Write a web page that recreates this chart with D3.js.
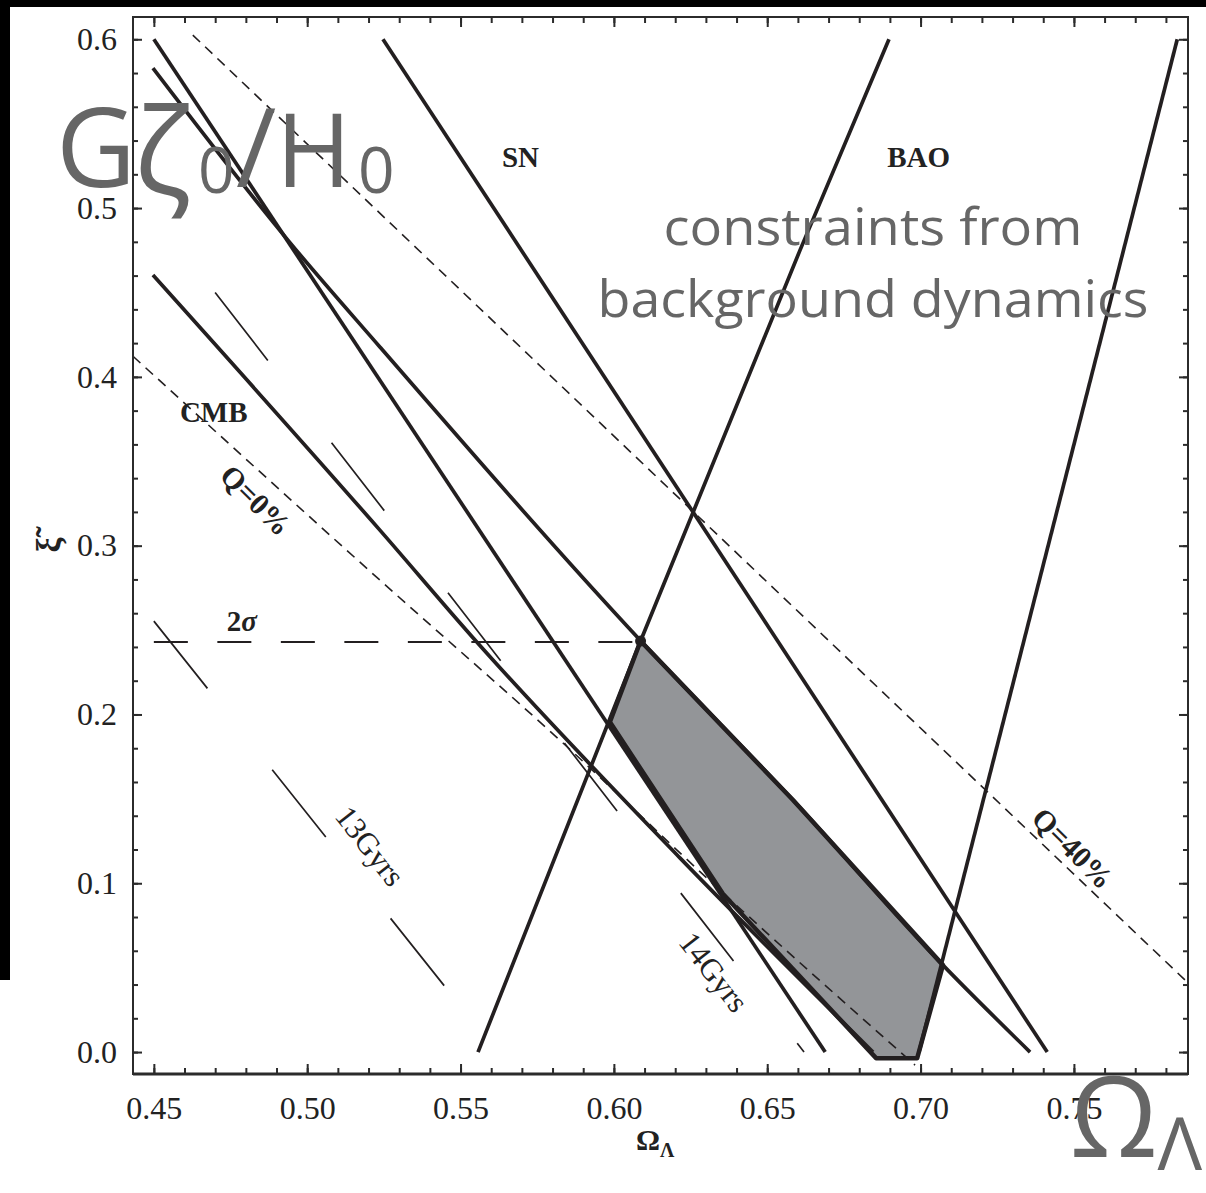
<!DOCTYPE html>
<html>
<head>
<meta charset="utf-8">
<script src="https://cdn.jsdelivr.net/npm/d3@7"></script>
<style>
  body { margin: 0; background: #fff; }
  svg { display: block; }
</style>
</head>
<body>
<div id="chart"></div>
<script>
// tick values and labels
var omegaMajor = [0.45, 0.50, 0.55, 0.60, 0.65, 0.70, 0.75];
var omegaLabels = ["0.45", "0.50", "0.55", "0.60", "0.65", "0.70", "0.75"];
var omegaMinor = [0.45, 0.46, 0.47, 0.48, 0.49, 0.50, 0.51, 0.52, 0.53, 0.54, 0.55, 0.56,
  0.57, 0.58, 0.59, 0.60, 0.61, 0.62, 0.63, 0.64, 0.65, 0.66, 0.67, 0.68, 0.69, 0.70,
  0.71, 0.72, 0.73, 0.74, 0.75, 0.76, 0.77, 0.78];
var xiMajor = [0.0, 0.1, 0.2, 0.3, 0.4, 0.5, 0.6];
var xiLabels = ["0.0", "0.1", "0.2", "0.3", "0.4", "0.5", "0.6"];
var xiMinor = [0.0, 0.02, 0.04, 0.06, 0.08, 0.10, 0.12, 0.14, 0.16, 0.18, 0.20, 0.22,
  0.24, 0.26, 0.28, 0.30, 0.32, 0.34, 0.36, 0.38, 0.40, 0.42, 0.44, 0.46, 0.48, 0.50,
  0.52, 0.54, 0.56, 0.58, 0.60];

// constraint curves, [Omega_Lambda, xi]
var snLow = [[0.45, 0.600], [0.6689, 0.0]];
var snHigh = [[0.5247, 0.600], [0.7413, 0.0]];
var cmbHigh = [[0.4497, 0.5829], [0.4937, 0.4810], [0.5237, 0.4177], [0.6088, 0.2435],
  [0.6584, 0.1493], [0.7073, 0.0515], [0.7357, 0.0]];
var cmbLow = [[0.4497, 0.4603], [0.5237, 0.3092], [0.5553, 0.2429], [0.6216, 0.1149],
  [0.6845, 0.0]];
var baoLow = [[0.5557, 0.0], [0.6087, 0.2435], [0.6607, 0.4751], [0.6897, 0.600]];
var baoHigh = [[0.6995, 0.0], [0.7837, 0.600]];
var q0 = [[0.4432, 0.4122], [0.5237, 0.2796], [0.5834, 0.1831], [0.6356, 0.0942],
  [0.6982, -0.0077]];
var q40 = [[0.4627, 0.6025], [0.7872, 0.041]];
var age13 = [[0.45, 0.2553], [0.5619, 0.0]];
var age14 = [[0.45, 0.4968], [0.662, 0.0]];
var sigma2 = [[0.45, 0.243], [0.6087, 0.243]];
var bestPoint = [0.6087, 0.2435];

// allowed region
var region = [[0.6087, 0.2435], [0.5987, 0.1955], [0.6356, 0.0936], [0.6855, -0.0036],
  [0.6989, -0.0036], [0.7073, 0.0515], [0.6584, 0.1493], [0.6087, 0.2435]];

var fullWidth = 1206, fullHeight = 1193;
var plot = {left: 133, right: 1188, top: 17, bottom: 1074};
var ink = "#231f20";

var x = d3.scaleLinear().domain([0.4432, 0.7872]).range([plot.left, plot.right]);
var y = d3.scaleLinear().domain([-0.0130, 0.6132]).range([plot.bottom, plot.top]);

var svg = d3.select("#chart").append("svg")
  .attr("width", fullWidth)
  .attr("height", fullHeight);

// screenshot border
svg.append("rect").attr("x", 0).attr("y", 0).attr("width", fullWidth).attr("height", 7).attr("fill", "#000");
svg.append("rect").attr("x", 0).attr("y", 0).attr("width", 10).attr("height", 980).attr("fill", "#000");

svg.append("defs").append("clipPath").attr("id", "clip")
  .append("rect")
  .attr("x", plot.left).attr("y", plot.top)
  .attr("width", plot.right - plot.left).attr("height", plot.bottom - plot.top);

var g = svg.append("g").attr("clip-path", "url(#clip)");

var straight = d3.line().x(function(d) { return x(d[0]); }).y(function(d) { return y(d[1]); });
var smooth = d3.line().x(function(d) { return x(d[0]); }).y(function(d) { return y(d[1]); })
  .curve(d3.curveMonotoneX);

// shaded region
g.append("path")
  .datum(region)
  .attr("d", straight)
  .attr("fill", "#939598")
  .attr("stroke", ink)
  .attr("stroke-width", 4.5)
  .attr("stroke-linejoin", "round");

// thin dashed Q lines
[q0, q40].forEach(function(line) {
  g.append("path").datum(line).attr("d", smooth)
    .attr("fill", "none").attr("stroke", ink).attr("stroke-width", 1.6)
    .attr("stroke-dasharray", "10,7");
});

// age lines (long dashes)
g.append("path").datum(age13).attr("d", straight)
  .attr("fill", "none").attr("stroke", ink).attr("stroke-width", 1.7)
  .attr("stroke-dasharray", "86,104");
g.append("path").datum(age14).attr("d", straight)
  .attr("fill", "none").attr("stroke", ink).attr("stroke-width", 1.7)
  .attr("stroke-dasharray", "86,104").attr("stroke-dashoffset", 90);

// 2 sigma
g.append("path").datum(sigma2).attr("d", straight)
  .attr("fill", "none").attr("stroke", ink).attr("stroke-width", 2)
  .attr("stroke-dasharray", "34,29.5");

// SN, CMB, BAO bands
[snLow, snHigh, cmbHigh, cmbLow, baoLow, baoHigh].forEach(function(line) {
  g.append("path").datum(line).attr("d", smooth)
    .attr("fill", "none").attr("stroke", ink).attr("stroke-width", 3.7)
    .attr("stroke-linecap", "butt");
});

g.append("circle")
  .attr("cx", x(bestPoint[0])).attr("cy", y(bestPoint[1]))
  .attr("r", 5.5).attr("fill", ink);

// frame
svg.append("rect")
  .attr("x", plot.left).attr("y", plot.top)
  .attr("width", plot.right - plot.left).attr("height", plot.bottom - plot.top)
  .attr("fill", "none").attr("stroke", "#2b2b2b").attr("stroke-width", 2);
svg.append("line")
  .attr("x1", plot.left).attr("x2", plot.right)
  .attr("y1", plot.bottom).attr("y2", plot.bottom)
  .attr("stroke", "#2b2b2b").attr("stroke-width", 3);

// axes, ticks inward on all four sides
function axisGroup(axis, tx, ty) {
  var a = svg.append("g")
    .attr("transform", "translate(" + tx + "," + ty + ")")
    .call(axis);
  a.select(".domain").remove();
  a.selectAll(".tick line").attr("stroke", "#2b2b2b").attr("stroke-width", 2);
  return a;
}

axisGroup(d3.axisBottom(x).tickValues(omegaMinor).tickSize(-6).tickFormat(""), 0, plot.bottom);
axisGroup(d3.axisTop(x).tickValues(omegaMinor).tickSize(-6).tickFormat(""), 0, plot.top);
axisGroup(d3.axisLeft(y).tickValues(xiMinor).tickSize(-5).tickFormat(""), plot.left, 0);
axisGroup(d3.axisRight(y).tickValues(xiMinor).tickSize(-5).tickFormat(""), plot.right, 0);

axisGroup(d3.axisBottom(x).tickValues(omegaMajor).tickSize(-10).tickPadding(22)
  .tickFormat(function(d, i) { return omegaLabels[i]; }), 0, plot.bottom);
axisGroup(d3.axisTop(x).tickValues(omegaMajor).tickSize(-10).tickFormat(""), 0, plot.top);
axisGroup(d3.axisLeft(y).tickValues(xiMajor).tickSize(-9).tickPadding(16)
  .tickFormat(function(d, i) { return xiLabels[i]; }), plot.left, 0);
axisGroup(d3.axisRight(y).tickValues(xiMajor).tickSize(-9).tickFormat(""), plot.right, 0);

svg.selectAll(".tick text")
  .attr("font-family", "Liberation Serif")
  .attr("font-size", 32)
  .attr("fill", "#222");

// axis titles
var xTitle = svg.append("text")
  .attr("x", 636).attr("y", 1150)
  .attr("font-family", "Liberation Serif").attr("font-weight", "bold")
  .attr("font-size", 30).attr("fill", "#222");
xTitle.append("tspan").text("\u03A9");
xTitle.append("tspan").attr("dy", 7).attr("font-size", 20).text("\u039B");

svg.append("text")
  .attr("transform", "translate(48,545) rotate(-90)")
  .attr("text-anchor", "middle").attr("dominant-baseline", "central")
  .attr("font-family", "Liberation Serif").attr("font-weight", "bold")
  .attr("font-size", 34).attr("fill", "#222")
  .text("\u03BE\u0303");

// in-plot labels
function label(txt, om, xi, opts) {
  opts = opts || {};
  var t = svg.append("text")
    .attr("font-family", "Liberation Serif")
    .attr("font-weight", opts.weight || "bold")
    .attr("font-size", opts.size || 29)
    .attr("fill", "#222");
  if (opts.rotate !== undefined) {
    t.attr("transform", "translate(" + x(om) + "," + y(xi) + ") rotate(" + opts.rotate + ")")
      .attr("text-anchor", "middle").attr("dominant-baseline", "central");
  } else {
    t.attr("x", x(om)).attr("y", y(xi));
  }
  t.text(txt);
  return t;
}

label("SN", 0.5635, 0.5243);
label("BAO", 0.6891, 0.5243);
label("CMB", 0.4585, 0.3732);
var sig = label("2", 0.4738, 0.2494);
sig.append("tspan").attr("font-style", "italic").text("\u03C3");
label("Q=0%", 0.4833, 0.327, {rotate: 45, size: 30});
label("Q=40%", 0.7497, 0.1209, {rotate: 45, size: 30});
label("13Gyrs", 0.5205, 0.122, {rotate: 52, weight: "normal", size: 31});
label("14Gyrs", 0.6326, 0.0474, {rotate: 52, weight: "normal", size: 31});

// grey overlay annotations
var grey = "#666666";
var gz = svg.append("text")
  .attr("y", 187)
  .attr("font-family", "Open Sans").attr("font-size", 110).attr("fill", grey);
gz.append("tspan").attr("x", 56).text("G");
gz.append("tspan").attr("x", 134).attr("font-size", 120).attr("dy", 8).text("\u03B6");
gz.append("tspan").attr("x", 198).attr("font-size", 64).attr("dy", -2).text("0");
gz.append("tspan").attr("x", 236).attr("dy", -6).text("/");
gz.append("tspan").attr("x", 276).attr("font-size", 102).text("H");
gz.append("tspan").attr("x", 358).attr("font-size", 64).attr("dy", 6).text("0");

svg.append("text")
  .attr("x", 873).attr("y", 245).attr("text-anchor", "middle")
  .attr("font-family", "Open Sans").attr("font-size", 52).attr("fill", grey)
  .attr("textLength", 419).attr("lengthAdjust", "spacingAndGlyphs")
  .text("constraints from");
svg.append("text")
  .attr("x", 873).attr("y", 317).attr("text-anchor", "middle")
  .attr("font-family", "Open Sans").attr("font-size", 52).attr("fill", grey)
  .attr("textLength", 551).attr("lengthAdjust", "spacingAndGlyphs")
  .text("background dynamics");

var om = svg.append("text")
  .attr("x", 1070).attr("y", 1157)
  .attr("font-family", "Open Sans").attr("font-size", 112).attr("fill", grey);
om.append("tspan").text("\u03A9");
om.append("tspan").attr("font-size", 74).attr("dy", 13).text("\u039B");
</script>
</body>
</html>
